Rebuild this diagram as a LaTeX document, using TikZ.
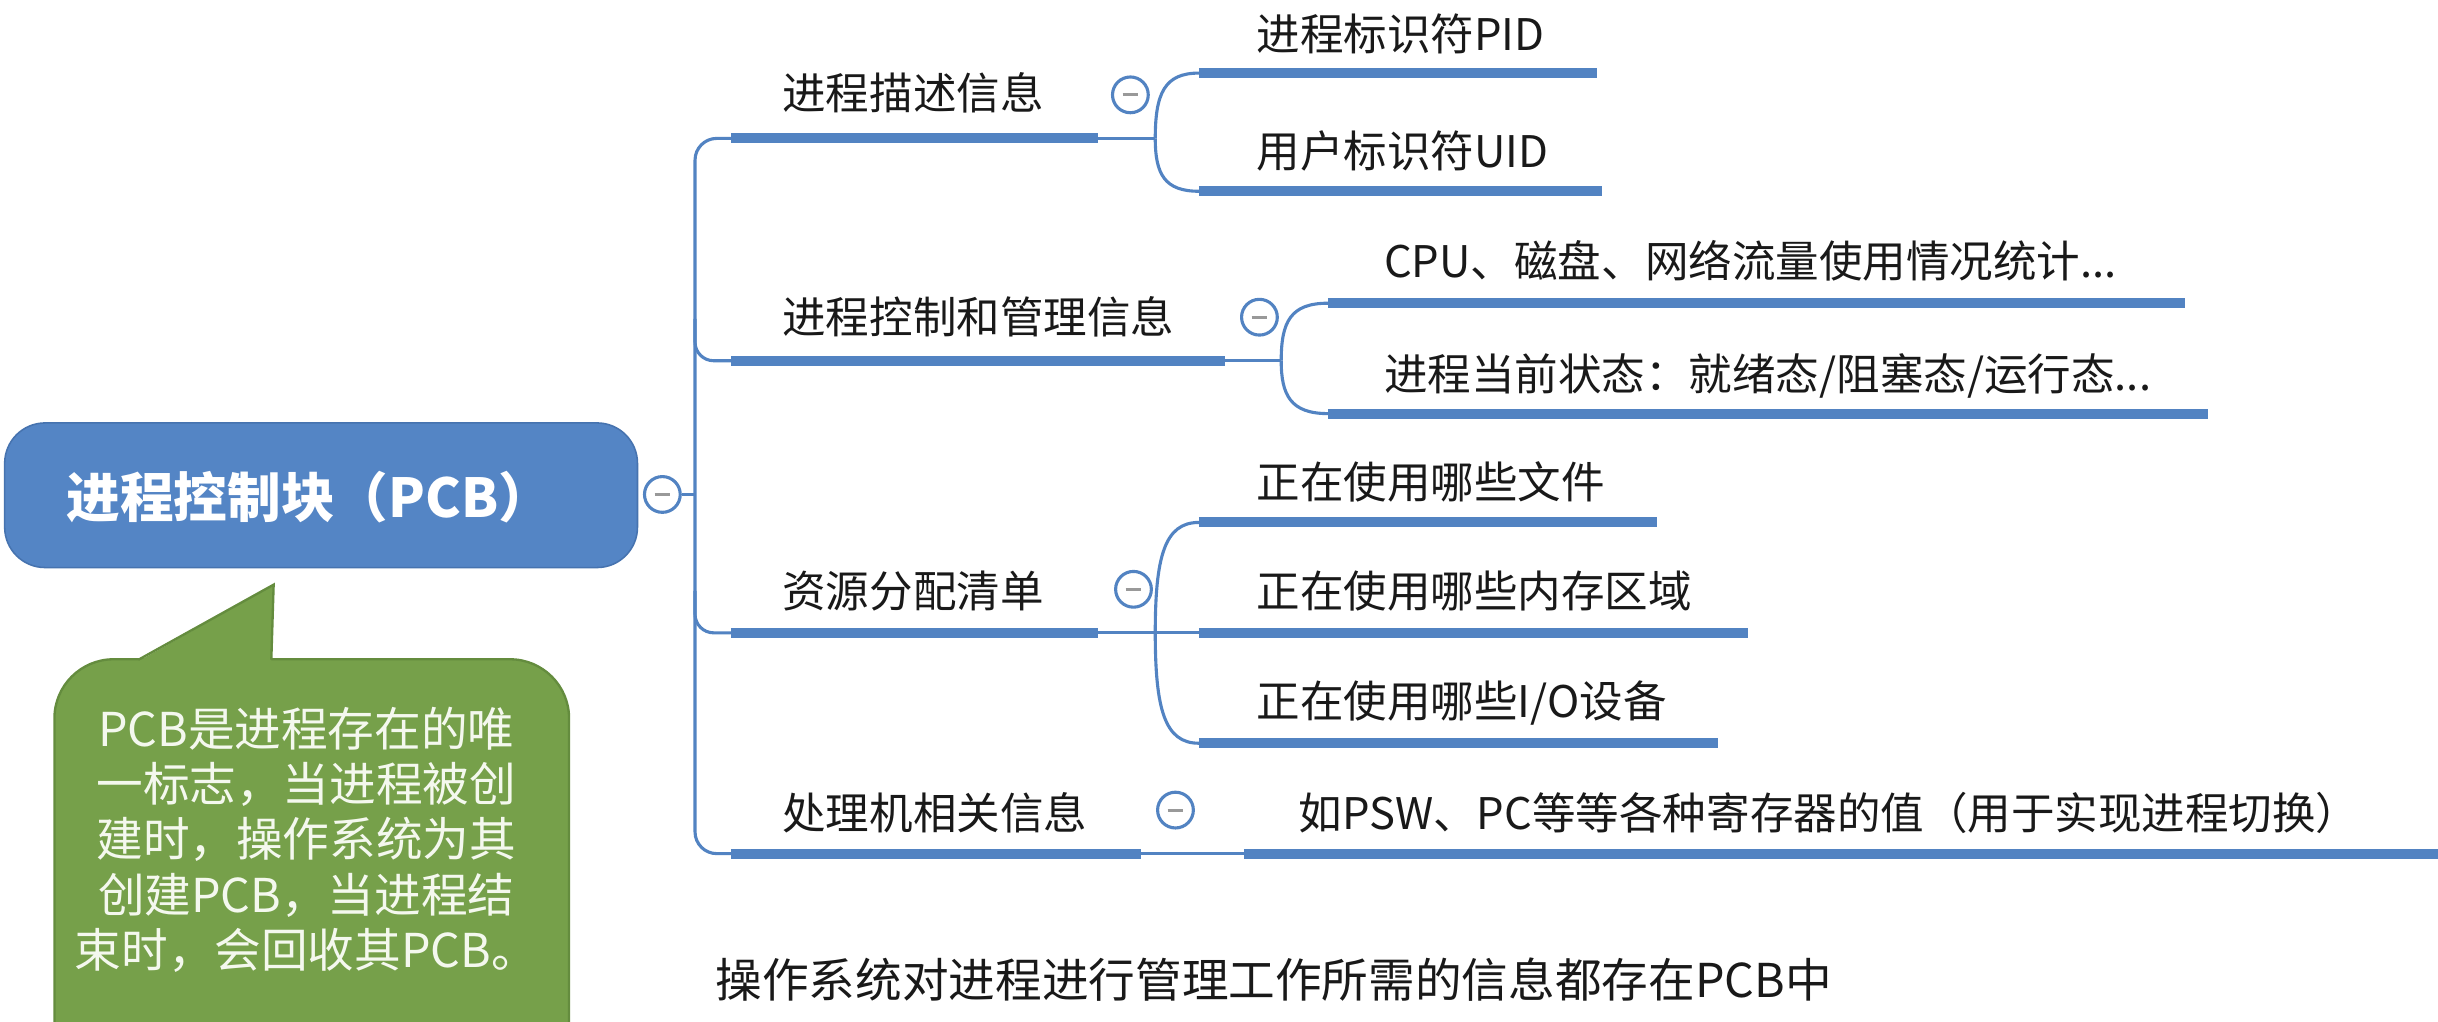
\documentclass[tikz,border=0pt]{standalone}
\usepackage{fontspec}
\setmainfont{Noto Sans CJK SC}
\definecolor{mmblue}{RGB}{82,131,194}
\definecolor{nodeblue}{RGB}{84,133,197}
\definecolor{nodeborder}{RGB}{70,115,175}
\definecolor{callgreen}{RGB}{118,160,74}
\definecolor{callborder}{RGB}{100,140,62}
\definecolor{calltxt}{RGB}{244,248,238}
\definecolor{txt}{RGB}{25,25,25}
\tikzset{
  bar/.style={draw=mmblue, line width=6.5pt},
  link/.style={draw=mmblue, line width=2pt},
  topic/.style={anchor=west, inner sep=0pt, font=\fontsize{28}{30}\selectfont, text=txt},
  fold/.style={circle, draw=mmblue, line width=2pt, fill=white, minimum size=23pt, inner sep=0pt,
    path picture={\draw[gray!80, line width=2pt] ([xshift=-5pt]path picture bounding box.center) -- ([xshift=5pt]path picture bounding box.center);}},
  mainbox/.style={rectangle, rounded corners=26pt, fill=nodeblue, draw=nodeborder, line width=1pt,
    minimum width=407pt, minimum height=93pt},
}
\begin{document}
\begin{tikzpicture}[x=1pt,y=-1pt]
\useasboundingbox (0,0) rectangle (1568,657);
\clip (0,0) rectangle (1568,657);
\fill[white] (0,0) rectangle (1568,657);

% main node
\node[mainbox] (pcb) at (206.5,318.5) {};
\node[font=\bfseries\fontsize{34.5}{40}\selectfont, text=white, inner sep=0pt] (pcblabel) at (199,320) {进程控制块（PCB）};
\node[fold] (f0) at (426,318) {};
\coordinate (t0) at (447,318);
\draw[link] (f0) -- (t0);

% trunk junctions
\coordinate (j1) at (447,89);
\coordinate (j4) at (447,549);
\coordinate (j2a) at (447,205);
\coordinate (j2) at (447,232);
\coordinate (j3a) at (447,380);
\coordinate (j3) at (447,407);

% branch bar coordinates
\coordinate (b1s) at (470,89);  \coordinate (b1e) at (706,89);  \coordinate (k1) at (743,89);
\coordinate (b2s) at (470,232); \coordinate (b2e) at (788,232); \coordinate (k2) at (824,232);
\coordinate (b3s) at (470,407); \coordinate (b3e) at (706,407); \coordinate (k3) at (743,407);
\coordinate (b4s) at (470,549); \coordinate (b4e) at (734,549);

% child bar coordinates
\coordinate (c11s) at (771,47);  \coordinate (c11e) at (1027,47);
\coordinate (c12s) at (771,123); \coordinate (c12e) at (1030,123);
\coordinate (c21s) at (854,195); \coordinate (c21e) at (1405,195);
\coordinate (c22s) at (854,266); \coordinate (c22e) at (1420,266);
\coordinate (c31s) at (771,336); \coordinate (c31e) at (1066,336);
\coordinate (c32s) at (771,407); \coordinate (c32e) at (1124,407);
\coordinate (c33s) at (771,478); \coordinate (c33e) at (1105,478);
\coordinate (c41s) at (800,549); \coordinate (c41e) at (1570,549);

% trunk
\draw[link, rounded corners=14pt] (b1s) -- (j1) -- (j4) -- (b4s);
\draw[link, rounded corners=12pt] (j2a) -- (j2) -- (b2s);
\draw[link, rounded corners=12pt] (j3a) -- (j3) -- (b3s);

% branch bars and links
\draw[bar] (b1s) -- (b1e);
\draw[bar] (b2s) -- (b2e);
\draw[bar] (b3s) -- (b3e);
\draw[bar] (b4s) -- (b4e);
\draw[link] (b1e) -- (k1);
\draw[link] (b2e) -- (k2);
\draw[link] (b3e) -- (k3);
\draw[link] (b4e) -- (c41s);

% forks
\draw[link] (k1) .. controls (743,60) and (749,47) .. (c11s);
\draw[link] (k1) .. controls (743,112) and (749,123) .. (c12s);
\draw[link] (k2) .. controls (824,207) and (830,195) .. (c21s);
\draw[link] (k2) .. controls (824,254) and (830,266) .. (c22s);
\draw[link] (k3) .. controls (743,358) and (749,336) .. (c31s);
\draw[link] (k3) -- (c32s);
\draw[link] (k3) .. controls (743,456) and (749,478) .. (c33s);

% child bars
\draw[bar] (c11s) -- (c11e);
\draw[bar] (c12s) -- (c12e);
\draw[bar] (c21s) -- (c21e);
\draw[bar] (c22s) -- (c22e);
\draw[bar] (c31s) -- (c31e);
\draw[bar] (c32s) -- (c32e);
\draw[bar] (c33s) -- (c33e);
\draw[bar] (c41s) -- (c41e);

% fold markers
\node[fold] (f1) at (727,61) {};
\node[fold] (f2) at (810,204) {};
\node[fold] (f3) at (729,379) {};
\node[fold] (f4) at (756,521) {};

% branch texts
\node[topic] (n1) at (503,60) {进程描述信息};
\node[topic] (n2) at (503,204) {进程控制和管理信息};
\node[topic] (n3) at (503,380) {资源分配清单};
\node[topic] (n4) at (503,523) {处理机相关信息};

% child texts
\node[topic] (m11) at (808,22) {进程标识符PID};
\node[topic] (m12) at (808,97) {用户标识符UID};
\node[topic] (m21) at (890,168) {CPU、磁盘、网络流量使用情况统计...};
\node[topic] (m22) at (890,242) {进程当前状态：就绪态/阻塞态/运行态...};
\node[topic] (m31) at (808,310) {正在使用哪些文件};
\node[topic] (m32) at (808,380) {正在使用哪些内存区域};
\node[topic] (m33) at (808,452) {正在使用哪些I/O设备};
\node[topic] (m41) at (835,523) {如PSW、PC等等各种寄存器的值（用于实现进程切换）};

% callout
\draw[fill=callgreen, draw=callborder, line width=1.5pt, rounded corners=38pt] (35,424) rectangle (366,720);
\fill[callgreen] (88,425.8) -- (176,376) -- (174.5,426.5) -- cycle;
\draw[callborder, line width=1.5pt] (89,424.3) -- (176,376) -- (174.5,424.3);
\node[align=center, inner sep=0pt, text=calltxt, font=\fontsize{30}{35.5}\selectfont] (note) at (197,540)
  {PCB是进程存在的唯\\一标志，当进程被创\\建时，操作系统为其\\创建PCB，当进程结\\束时，会回收其PCB。};

% summary
\node[anchor=west, inner sep=0pt, text=txt, font=\fontsize{30}{32}\selectfont] (summary) at (460,630)
  {操作系统对进程进行管理工作所需的信息都存在PCB中};
\end{tikzpicture}
\end{document}
